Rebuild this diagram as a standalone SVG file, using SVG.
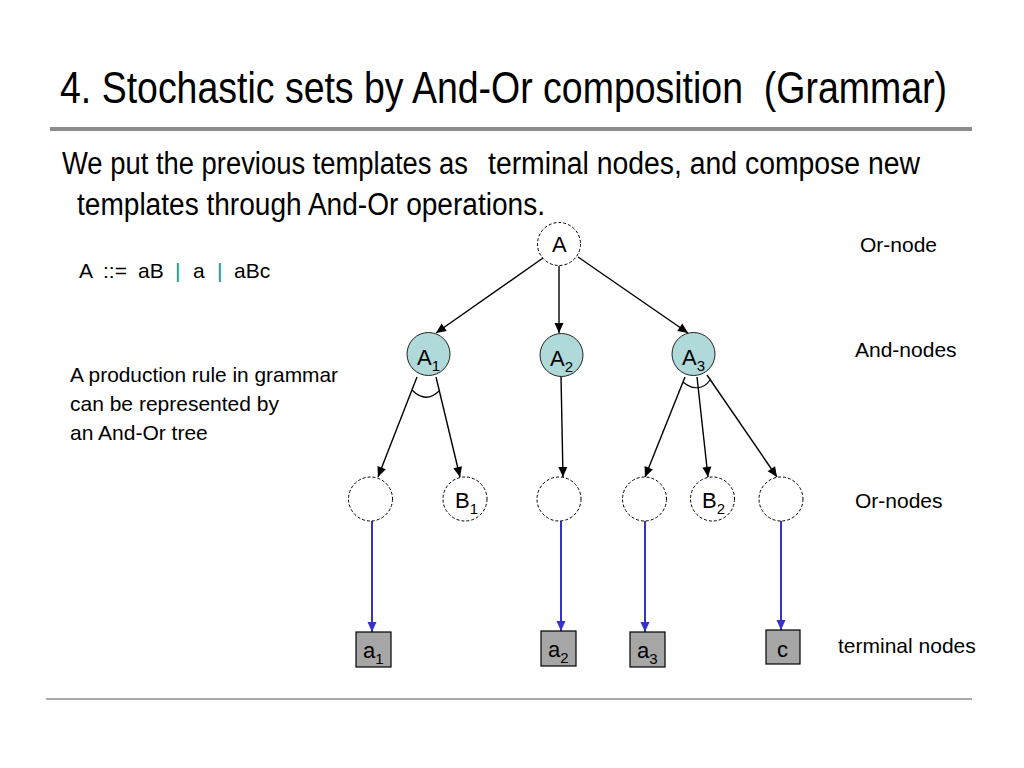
<svg xmlns="http://www.w3.org/2000/svg" width="1024" height="768" viewBox="0 0 1024 768">
<style>
text{font-family:"Liberation Sans",Arial,sans-serif;fill:#000}
.ttl{font-size:39.5px;white-space:pre}
.body{font-size:31px}
.or{fill:#fff;stroke:#000;stroke-width:1;stroke-dasharray:3,2}
.and{fill:#b0d9d9;stroke:#222;stroke-width:1}
.term{fill:#a6a6a6;stroke:#000;stroke-width:1.2}
.nl{font-size:22px}
.sub{font-size:15px}
.lbl{font-size:21px}
.blk{stroke:#000;stroke-width:1.4;fill:none;marker-end:url(#ab)}
.blu{stroke:#3333cc;stroke-width:2;fill:none;marker-end:url(#au)}
.arc{stroke:#000;stroke-width:1.2;fill:none}
</style>
<defs>
<marker id="ab" viewBox="0 0 10 10" refX="10" refY="5" markerWidth="11" markerHeight="10" markerUnits="userSpaceOnUse" orient="auto"><path d="M0,0.5 L10,5 L0,9.5 z" fill="#000"/></marker>
<marker id="au" viewBox="0 0 10 10" refX="10" refY="5" markerWidth="11" markerHeight="10" markerUnits="userSpaceOnUse" orient="auto"><path d="M0,0.5 L10,5 L0,9.5 z" fill="#3333cc"/></marker>
</defs>
<rect width="1024" height="768" fill="#fff"/>
<text class="ttl" xml:space="preserve" x="60" y="91.96" transform="scale(1,1.12)" textLength="887" lengthAdjust="spacingAndGlyphs">4. Stochastic sets by And-Or composition  (Grammar)</text>
<rect x="50" y="127" width="922" height="4" fill="#8c8c8c"/>
<text class="body" x="62" y="174" textLength="406" lengthAdjust="spacingAndGlyphs">We put the previous templates as</text>
<text class="body" x="488" y="174" textLength="432" lengthAdjust="spacingAndGlyphs">terminal nodes, and compose new</text>
<text class="body" x="77" y="215" textLength="468" lengthAdjust="spacingAndGlyphs">templates through And-Or operations.</text>
<text y="278" font-size="21"><tspan x="79">A</tspan><tspan x="103">::=</tspan><tspan x="138">aB</tspan><tspan x="175" fill="#009999">|</tspan><tspan x="193">a</tspan><tspan x="217" fill="#009999">|</tspan><tspan x="234">aBc</tspan></text>
<g class="lbl">
<text x="70" y="382" textLength="268" lengthAdjust="spacingAndGlyphs">A production rule in grammar</text>
<text x="70" y="411">can be represented by</text>
<text x="70" y="440">an And-Or tree</text>
<text x="860" y="252">Or-node</text>
<text x="855" y="357">And-nodes</text>
<text x="855" y="508">Or-nodes</text>
<text x="838" y="653">terminal nodes</text>
</g>
<rect x="46" y="698" width="926" height="2" fill="#aaaaaa"/>
<g id="connectors">
<path class="blk" d="M543,258 L436,333"/>
<path class="blk" d="M559,266 L559,333"/>
<path class="blk" d="M578,257 L688,333"/>
<path class="blk" d="M417,377 L378,477"/>
<path class="blk" d="M436,377 L460,477"/>
<path class="blk" d="M561,376 L563,477"/>
<path class="blk" d="M685,377 L645,477"/>
<path class="blk" d="M697,377 L708,477"/>
<path class="blk" d="M707,375 L777,477"/>
<path class="arc" d="M412,390 C418,396 428,402 439,391"/>
<path class="arc" d="M683,382 C690,388 702,392 710,380"/>
<path class="blu" d="M372,521 L372,632"/>
<path class="blu" d="M561,521 L561,631"/>
<path class="blu" d="M645,521 L645,632"/>
<path class="blu" d="M781,521 L781,630"/>
</g>
<g id="A"><circle class="or" cx="559" cy="244" r="21.5"/><text class="nl" x="552" y="252">A</text></g>
<g id="A1"><circle class="and" cx="428.5" cy="354" r="21.5"/><text class="nl" x="417" y="365">A<tspan class="sub" dy="6">1</tspan></text></g>
<g id="A2"><circle class="and" cx="561.5" cy="355" r="21.5"/><text class="nl" x="550" y="366">A<tspan class="sub" dy="6">2</tspan></text></g>
<g id="A3"><circle class="and" cx="693.5" cy="354" r="21.5"/><text class="nl" x="682" y="365">A<tspan class="sub" dy="6">3</tspan></text></g>
<g id="or1"><circle class="or" cx="370.5" cy="499" r="22"/></g>
<g id="B1"><circle class="or" cx="465" cy="499" r="22"/><text class="nl" x="455" y="508">B<tspan class="sub" dy="6">1</tspan></text></g>
<g id="or3"><circle class="or" cx="559" cy="499" r="22"/></g>
<g id="or4"><circle class="or" cx="644.5" cy="499" r="22"/></g>
<g id="B2"><circle class="or" cx="712.5" cy="499" r="22"/><text class="nl" x="702" y="508">B<tspan class="sub" dy="6">2</tspan></text></g>
<g id="or6"><circle class="or" cx="781" cy="499" r="22"/></g>
<g id="a1"><rect class="term" x="356" y="632" width="35" height="35"/><text class="nl" x="363" y="658">a<tspan class="sub" dy="6">1</tspan></text></g>
<g id="a2"><rect class="term" x="541" y="631" width="35" height="35"/><text class="nl" x="548" y="657">a<tspan class="sub" dy="6">2</tspan></text></g>
<g id="a3"><rect class="term" x="630" y="632" width="35" height="35"/><text class="nl" x="637" y="658">a<tspan class="sub" dy="6">3</tspan></text></g>
<g id="c"><rect class="term" x="766" y="630" width="34" height="34"/><text class="nl" x="777" y="657">c</text></g>
</svg>
